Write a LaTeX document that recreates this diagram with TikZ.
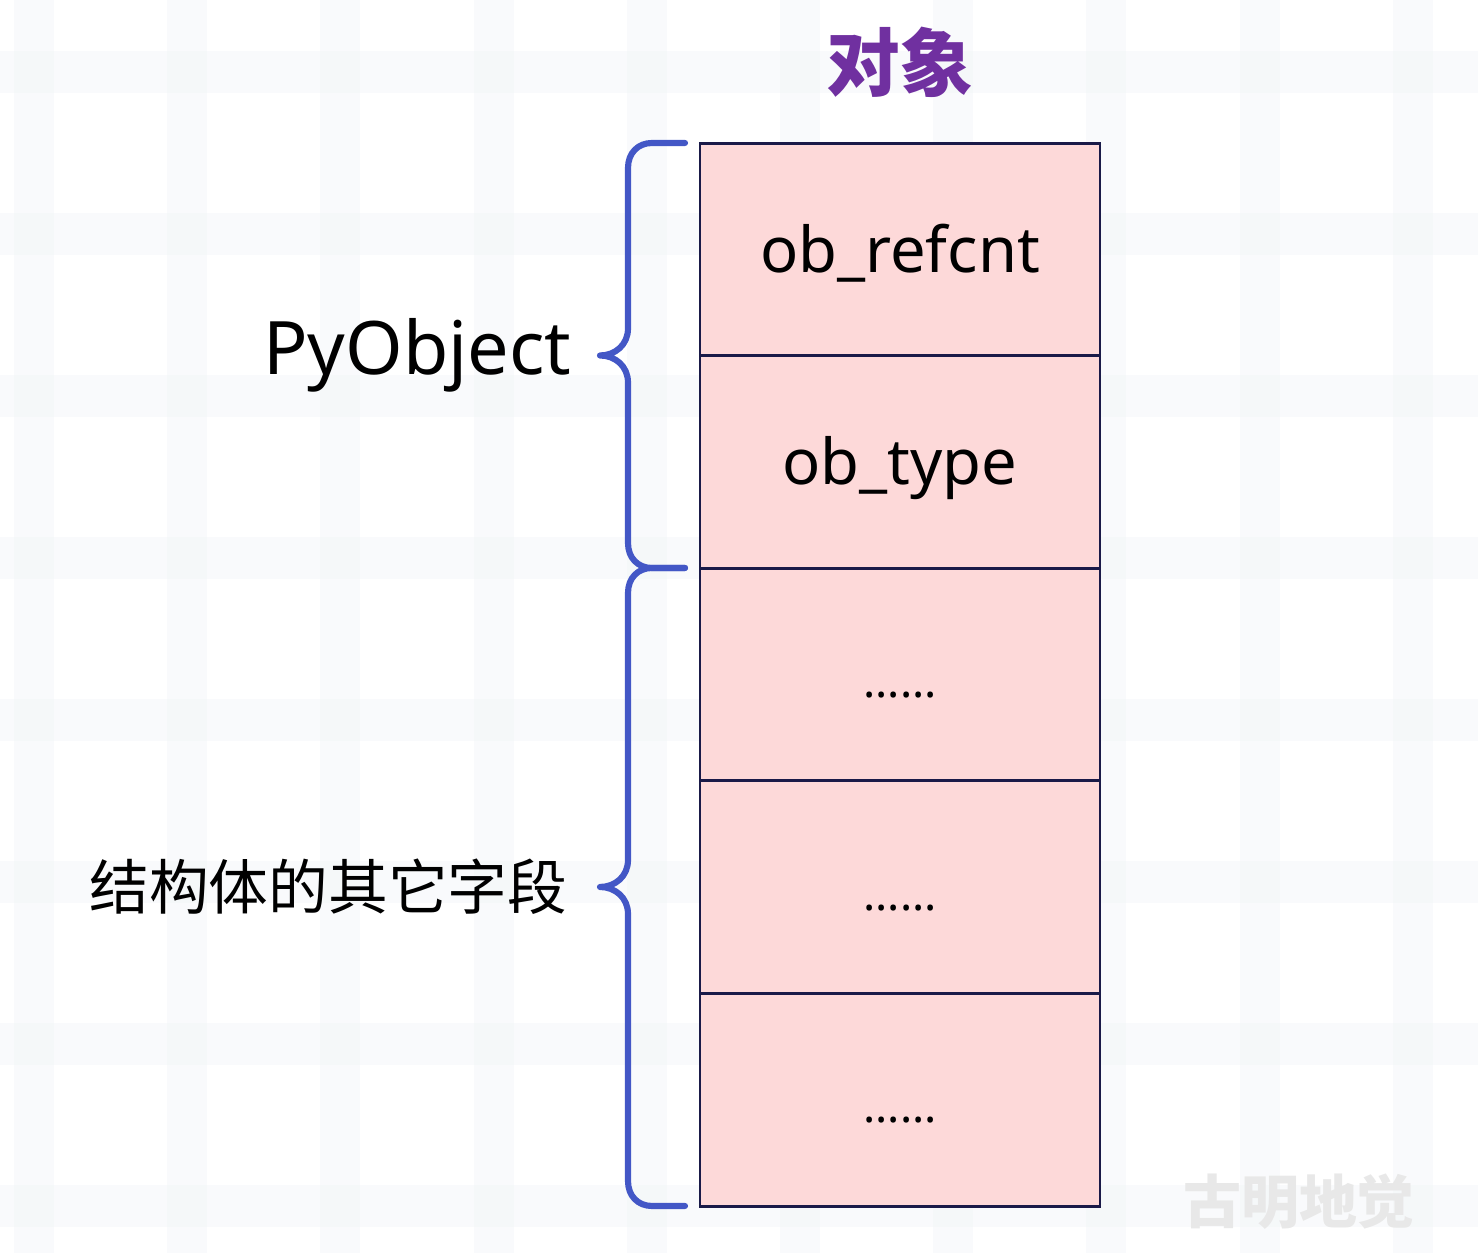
\documentclass[tikz,border=0pt]{standalone}
\usepackage{fontspec}
\setmainfont{Noto Sans}
\newfontfamily\cjk{Noto Sans CJK SC}
\usetikzlibrary{positioning}
\definecolor{fieldpink}{HTML}{FDD9D9}
\definecolor{fieldline}{HTML}{1A1A48}
\definecolor{bracecol}{HTML}{4357C6}
\definecolor{titlecol}{HTML}{7030A0}
\definecolor{markgray}{HTML}{E8E8E8}
\definecolor{bandcol}{HTML}{EEF2F5}

\begin{document}
\begin{tikzpicture}[x=0.1mm,y=-0.1mm,
  field/.style={draw=fieldline,line width=0.85pt,fill=fieldpink,minimum width=4cm,minimum height=2.126cm,
    outer sep=0pt,inner sep=0pt,text height=13pt,text depth=0pt,font=\fontsize{18}{22}\selectfont},
  brace/.style={draw=bracecol,line width=1.75pt,line cap=round,line join=round},
  side/.style={inner sep=0pt},
  band/.style={fill=bandcol,fill opacity=.35}]
\useasboundingbox (0,0) rectangle (1478,1253);
% background grid
\foreach \i in {0,...,9} \fill[band] ({14+153.2*\i},0) rectangle +(40,1253);
\foreach \i in {0,...,7} \fill[band] (0,{51+162*\i}) rectangle +(1478,42);
% the fields
  \node[field] (refcnt) at (900,249.5) {ob\_refcnt};
  \node[field,below=0cm of refcnt] (type) {ob\_type};
  \node[field,below=0cm of type] (restA) {\fontsize{13}{15}\selectfont ......};
  \node[field,below=0cm of restA] (restB) {\fontsize{13}{15}\selectfont ......};
  \node[field,below=0cm of restB] (restC) {\fontsize{13}{15}\selectfont ......};
% title
  \node[side,above=4.5mm of refcnt,font=\cjk\bfseries\fontsize{21}{24}\selectfont,text=titlecol] (title) {对象};
% braces
\draw[brace] (685,143) -- (652,143) .. controls (638,143) and (628,153) .. (628,168) -- (628,328.5)
  .. controls (628,345) and (615,355.5) .. (600,355.5) .. controls (615,355.5) and (628,366) .. (628,382.5)
  -- (628,543) .. controls (628,558) and (638,568) .. (652,568) -- (685,568);
\draw[brace] (685,568) -- (652,568) .. controls (638,568) and (628,578) .. (628,593) -- (628,860)
  .. controls (628,876.5) and (615,887) .. (600,887) .. controls (615,887) and (628,897.5) .. (628,914)
  -- (628,1181) .. controls (628,1196) and (638,1206) .. (652,1206) -- (685,1206);
  \coordinate (pytip) at (600,355.5);
  \coordinate (resttip) at (600,887);
  \node[side,left=2.8mm of pytip,font=\fontsize{21}{26}\selectfont] (pyobj) {PyObject};
  \node[side,left=3.2mm of resttip,font=\cjk\fontsize{17}{20}\selectfont] (rest) {结构体的其它字段};
% watermark
  \node[font=\cjk\bfseries\fontsize{16.5}{20}\selectfont,text=markgray] (mark) at (1299,1202) {古明地觉};
\end{tikzpicture}
\end{document}
